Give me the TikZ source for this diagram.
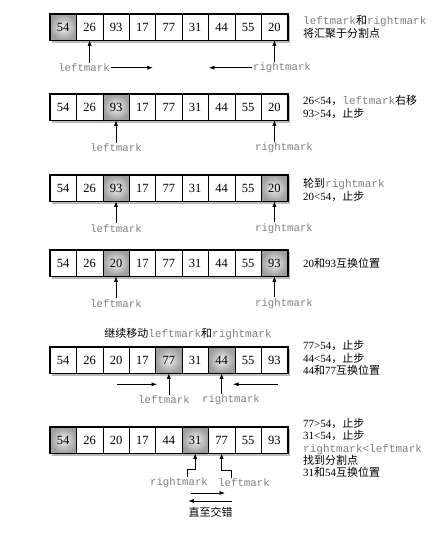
\documentclass[tikz,border=0pt]{standalone}
\usepackage{fontspec}
\setmainfont{Liberation Serif}
\setmonofont{Liberation Mono}
\newfontfamily\cjk{Noto Sans CJK SC}
\usetikzlibrary{arrows.meta, shadows, positioning, backgrounds, fit}
\definecolor{markgray}{HTML}{808080}
\newcommand{\mk}[1]{{\ttfamily\color{markgray}#1}}
\newcommand{\zh}[1]{{\cjk #1}}
% one row of the array: name, y of centre, list value/style
\newcommand{\arrayrow}[3]{%
  \foreach \v/\s [count=\i] in {#3} {
    \node[\s] (#1c\i) at ({50+(\i-0.5)*26.4},#2) {\v};
  }
  \begin{pgfonlayer}{background}
    \node[frame, fit=(#1c1)(#1c9)] (#1frame) {};
  \end{pgfonlayer}
}
\tikzset{
  cell/.style={draw=black, line width=0.6pt, minimum width=26.4pt, minimum height=26pt, inner sep=0pt, font=\fontsize{12.5}{12.5}\selectfont},
  hcell/.style={cell, inner color=black!6, outer color=black!38},
  frame/.style={draw=black, line width=1.2pt, fill=white, inner sep=0pt, drop shadow={shadow xshift=2pt, shadow yshift=-2.5pt, fill=black!45, opacity=0.6}},
  marklabel/.style={font=\fontsize{10.7}{12}\selectfont\ttfamily, text=markgray, inner sep=1pt},
  note/.style={anchor=west, align=left, font=\fontsize{11}{12.4}\selectfont, inner sep=0pt},
  markarrow/.style={-{Latex[length=5.5pt,width=4pt]}, line width=0.6pt},
}

\begin{document}
\begin{tikzpicture}[x=1pt, y=-1pt]
  \useasboundingbox (0,0) rectangle (433,533);

  % Fila 1
  \arrayrow{row1}{27}{54/hcell,26/cell,93/cell,17/cell,77/cell,31/cell,44/cell,55/cell,20/cell}
  \node[marklabel] (lm1) at (84,67.7) {leftmark};
  \node[marklabel] (rm1) at (282,67.7) {rightmark};
  \draw[markarrow] (lm1.north -| row1c2.south) -- (row1c2.south);
  \draw[markarrow] (rm1.north -| row1c9.south) -- (row1c9.south);
  \draw[markarrow] (lm1.east) -- ++(42,0);
  \draw[markarrow] (rm1.west) -- ++(-43,0);
  \node[note] (n1) at (303,27) {\mk{leftmark}\zh{和}\mk{rightmark}\\\zh{将汇聚于分割点}};

  % Fila 2
  \arrayrow{row2}{107}{54/cell,26/cell,93/hcell,17/cell,77/cell,31/cell,44/cell,55/cell,20/cell}
  \node[marklabel] (lm2) at (116,148) {leftmark};
  \node[marklabel] (rm2) at (284,148) {rightmark};
  \draw[markarrow] (lm2.north -| row2c3.south) -- (row2c3.south);
  \draw[markarrow] (rm2.north -| row2c9.south) -- (row2c9.south);
  \node[note] (n2) at (303,107) {26<54\zh{，}\mk{leftmark}\zh{右移}\\93>54\zh{，止步}};

  % Fila 3
  \arrayrow{row3}{188}{54/cell,26/cell,93/hcell,17/cell,77/cell,31/cell,44/cell,55/cell,20/hcell}
  \node[marklabel] (lm3) at (116,228.3) {leftmark};
  \node[marklabel] (rm3) at (284,228.3) {rightmark};
  \draw[markarrow] (lm3.north -| row3c3.south) -- (row3c3.south);
  \draw[markarrow] (rm3.north -| row3c9.south) -- (row3c9.south);
  \node[note] (n3) at (303,190) {\zh{轮到}\mk{rightmark}\\20<54\zh{，止步}};

  % Fila 4
  \arrayrow{row4}{263}{54/cell,26/cell,20/hcell,17/cell,77/cell,31/cell,44/cell,55/cell,93/hcell}
  \node[marklabel] (lm4) at (116,303.3) {leftmark};
  \node[marklabel] (rm4) at (284,303.3) {rightmark};
  \draw[markarrow] (lm4.north -| row4c3.south) -- (row4c3.south);
  \draw[markarrow] (rm4.north -| row4c9.south) -- (row4c9.south);
  \node[note] (n4) at (303,263) {20\zh{和}93\zh{互换位置}};

  % Fila 5
  \node[font=\fontsize{11}{12}\selectfont] (title5) at (188,334.5) {\zh{继续移动}\mk{leftmark}\zh{和}\mk{rightmark}};
  \arrayrow{row5}{360}{54/cell,26/cell,20/cell,17/cell,77/hcell,31/cell,44/hcell,55/cell,93/cell}
  \node[marklabel] (lm5) at (164,400) {leftmark};
  \node[marklabel] (rm5) at (231,400) {rightmark};
  \draw[markarrow] (lm5.north -| row5c5.south) -- (row5c5.south);
  \draw[markarrow] (rm5.north -| row5c7.south) -- (row5c7.south);
  \coordinate (go5a) at (117,384.3);
  \coordinate (go5b) at (157,384.3);
  \coordinate (go5c) at (278,384.3);
  \coordinate (go5d) at (233,384.3);
  \draw[markarrow] (go5a) -- (go5b);
  \draw[markarrow] (go5c) -- (go5d);
  \node[note] (n5) at (303,358) {77>54\zh{，止步}\\44<54\zh{，止步}\\44\zh{和}77\zh{互换位置}};

  % Fila 6
  \arrayrow{row6}{440}{54/hcell,26/cell,20/cell,17/cell,44/cell,31/hcell,77/cell,55/cell,93/cell}
  \node[marklabel] (rm6) at (179,482.7) {rightmark};
  \node[marklabel] (lm6) at (244,482.7) {leftmark};
  \draw[markarrow] ([xshift=8.3pt]rm6.north) -- ++(0,-7) -| (row6c6.south);
  \draw[markarrow] ([xshift=-12.3pt]lm6.north) -- ++(0,-7) -| (row6c7.south);
  \coordinate (x6a) at (190.7,493);
  \coordinate (x6b) at (225,493);
  \coordinate (x6c) at (231.7,501);
  \coordinate (x6d) at (188.3,501);
  \draw[markarrow] (x6a) -- (x6b);
  \draw[markarrow] (x6c) -- (x6d);
  \node[font=\fontsize{11}{12}\selectfont] (cross6) at (210.7,512) {\zh{直至交错}};
  \node[note] (n6) at (303,448) {77>54\zh{，止步}\\31<54\zh{，止步}\\\mk{rightmark<leftmark}\\\zh{找到分割点}\\31\zh{和}54\zh{互换位置}};
\end{tikzpicture}
\end{document}
